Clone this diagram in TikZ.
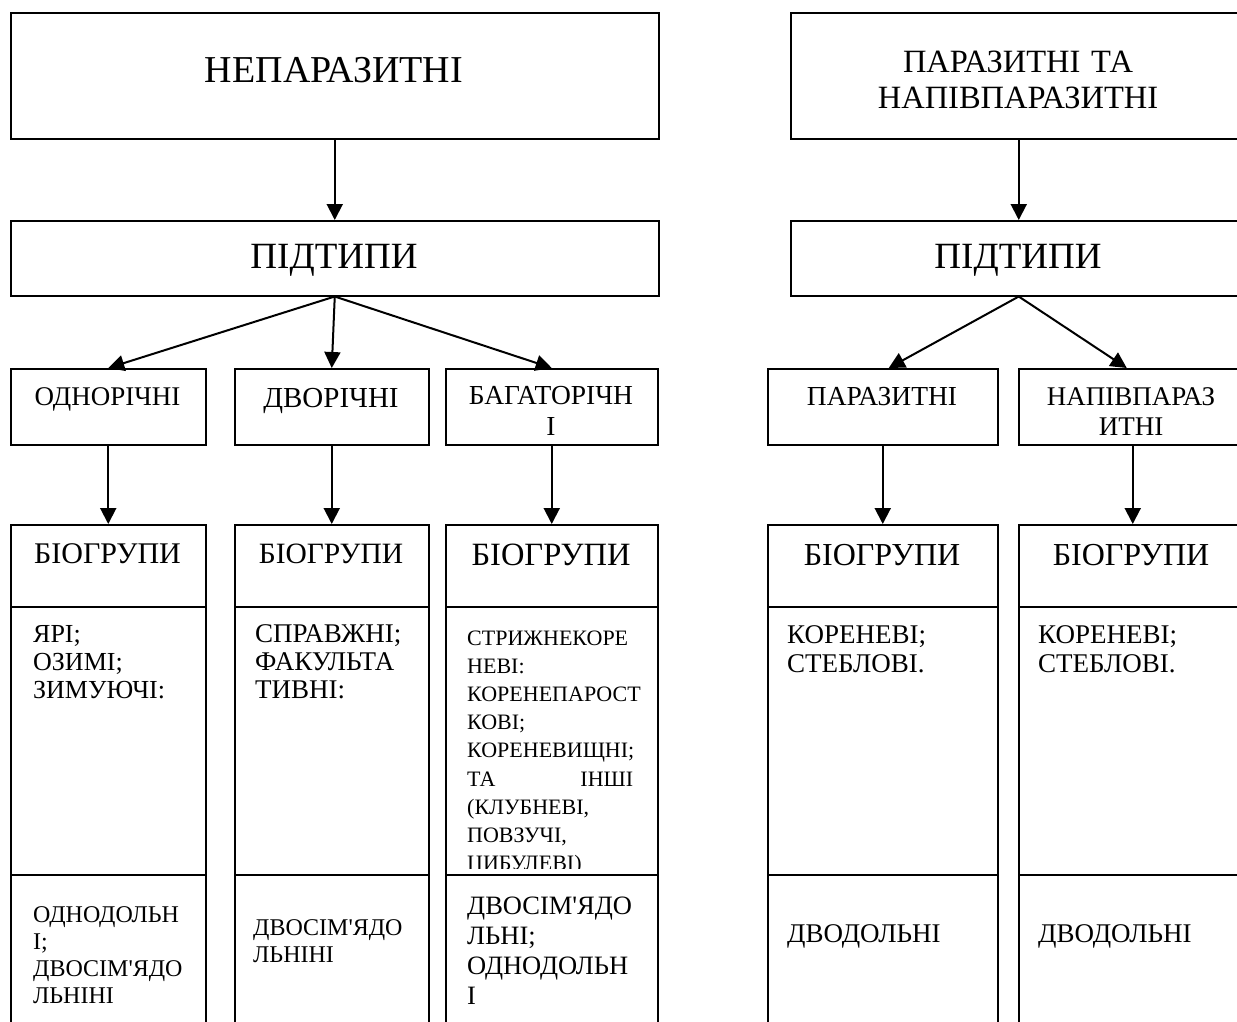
\documentclass[tikz,border=0pt]{standalone}
\usepackage{fontspec}
\setmainfont{Liberation Serif}[Ligatures=TeXOff]
\usetikzlibrary{arrows.meta}
\newcommand{\fsz}[2]{\fontsize{#1pt}{#2pt}\selectfont}

\begin{document}
\begin{tikzpicture}[x=1pt, y=-1pt,
    box/.style={draw, line width=1.5pt, anchor=north west, inner sep=0pt},
    arr/.style={line width=2pt, -{Triangle[length=16pt, width=16pt]}},
    txt/.style={anchor=base, inner sep=0pt},
    cell/.style={anchor=base west, inner sep=0pt, align=left}]

    % 0. Рамка малюнка
    \useasboundingbox (0,0) rectangle (1237,1021);
    \clip (0,0) rectangle (1237,1021);

    % 1. Верхні блоки
    \node[box, minimum width=648pt, minimum height=126pt] (nep) at (10,12) {};
    \node[box, minimum width=456pt, minimum height=126pt] (par) at (790,12) {};
    \node[txt, font=\fsz{38}{43}] (nepT) at (334,82) {НЕПАРАЗИТНІ};
    \node[txt, font=\fsz{32.5}{36}, text width=440pt, align=center] (parT) at (1018,72)
        {ПАРАЗИТНІ ТА\\НАПІВПАРАЗИТНІ};

    % 2. Підтипи
    \node[box, minimum width=648pt, minimum height=75pt] (pidL) at (10,220) {};
    \node[box, minimum width=456pt, minimum height=75pt] (pidR) at (790,220) {};
    \node[txt, font=\fsz{37}{42}] (pidLT) at (334,268) {ПІДТИПИ};
    \node[txt, font=\fsz{37}{42}] (pidRT) at (1018,268) {ПІДТИПИ};

    % 3. Блоки підтипів
    \node[box, minimum width=195pt, minimum height=76pt] (odn) at (10,368) {};
    \node[box, minimum width=194pt, minimum height=76pt] (dvo) at (234,368) {};
    \node[box, minimum width=212pt, minimum height=76pt] (bag) at (445,368) {};
    \node[box, minimum width=230pt, minimum height=76pt] (pars) at (767,368) {};
    \node[box, minimum width=228pt, minimum height=76pt] (nap) at (1018,368) {};
    \node[txt, font=\fsz{27}{31}] (odnT) at (107.5,405) {ОДНОРІЧНІ};
    \node[txt, font=\fsz{29}{33}] (dvoT) at (331,407) {ДВОРІЧНІ};
    \node[txt, font=\fsz{27.5}{31}, text width=205pt, align=center] (bagT) at (551,404)
        {БАГАТОРІЧН\\І};
    \node[txt, font=\fsz{27.5}{31}] (parsT) at (882,405) {ПАРАЗИТНІ};
    \node[txt, font=\fsz{27}{30}, text width=220pt, align=center] (napT) at (1131,405)
        {НАПІВПАРАЗ\\ИТНІ};

    % 4. Стовпці біогруп
    \foreach \n/\x/\w in {A/10/195, B/234/194, C/445/212, D/767/230, E/1018/228} {
        \node[box, minimum width=\w*1pt, minimum height=82pt] (bio\n) at (\x,524) {};
        \node[box, minimum width=\w*1pt, minimum height=268pt] (mid\n) at (\x,606) {};
        \node[box, minimum width=\w*1pt, minimum height=170pt] (low\n) at (\x,874) {};
    }

    % 5. Стрілки
    \draw[arr] (nep.south) -- (pidL.north);
    \draw[arr] (par.south) -- (pidR.north);
    \draw[arr] (pidL.south) -- (odn.north);
    \draw[arr] (pidL.south) -- (dvo.north);
    \draw[arr] (pidL.south) -- (bag.north);
    \draw[arr] (pidR.south) -- ([xshift=6pt]pars.north);
    \draw[arr] (pidR.south) -- ([xshift=-6pt]nap.north);
    \draw[arr] (odn.south) -- (bioA.north);
    \draw[arr] (dvo.south) -- (bioB.north);
    \draw[arr] (bag.south) -- (bioC.north);
    \draw[arr] (pars.south) -- (bioD.north);
    \draw[arr] (nap.south) -- (bioE.north);

    % 6. Підписи БІОГРУПИ
    \node[txt, font=\fsz{30}{34}] (bioAT) at (107.5,563) {БІОГРУПИ};
    \node[txt, font=\fsz{29.5}{34}] (bioBT) at (331,563) {БІОГРУПИ};
    \node[txt, font=\fsz{32.5}{37}] (bioCT) at (551,565) {БІОГРУПИ};
    \node[txt, font=\fsz{32}{37}] (bioDT) at (882,565) {БІОГРУПИ};
    \node[txt, font=\fsz{32}{37}] (bioET) at (1131,565) {БІОГРУПИ};

    % 7. Середні клітинки
    \node[cell, font=\fsz{26}{28}, text width=165pt] (midAT) at (33,642)
        {ЯРІ;\\ОЗИМІ;\\ЗИМУЮЧІ:};
    \node[cell, font=\fsz{27}{28}, text width=165pt] (midBT) at (255,642)
        {СПРАВЖНІ;\\ФАКУЛЬТА\\ТИВНІ:};
    \begin{scope}
        \clip (446,607) rectangle (656,868);
        \node[cell, font=\fsz{22}{28.2}, text width=166pt] (midCT) at (467,645)
            {СТРИЖНЕКОРЕ\\НЕВІ:\\КОРЕНЕПАРОСТ\\КОВІ;\\КОРЕНЕВИЩНІ;\\ТА\hfill ІНШІ\\(КЛУБНЕВІ,\\ПОВЗУЧІ,\\ЦИБУЛЕВІ)};
    \end{scope}
    \node[cell, font=\fsz{27}{29}, text width=190pt] (midDT) at (787,643)
        {КОРЕНЕВІ;\\СТЕБЛОВІ.};
    \node[cell, font=\fsz{27}{29}, text width=190pt] (midET) at (1038,643)
        {КОРЕНЕВІ;\\СТЕБЛОВІ.};

    % 8. Нижні клітинки
    \node[cell, font=\fsz{24}{27}, text width=165pt] (lowAT) at (33,922)
        {ОДНОДОЛЬН\\І;\\ДВОСІМ'ЯДО\\ЛЬНІНІ};
    \node[cell, font=\fsz{24}{27}, text width=165pt] (lowBT) at (253,935)
        {ДВОСІМ'ЯДО\\ЛЬНІНІ};
    \node[cell, font=\fsz{26.5}{30}, text width=180pt] (lowCT) at (467,914)
        {ДВОСІМ'ЯДО\\ЛЬНІ;\\ОДНОДОЛЬН\\І};
    \node[cell, font=\fsz{27}{30}] (lowDT) at (787,942) {ДВОДОЛЬНІ};
    \node[cell, font=\fsz{27}{30}] (lowET) at (1038,942) {ДВОДОЛЬНІ};

\end{tikzpicture}
\end{document}
